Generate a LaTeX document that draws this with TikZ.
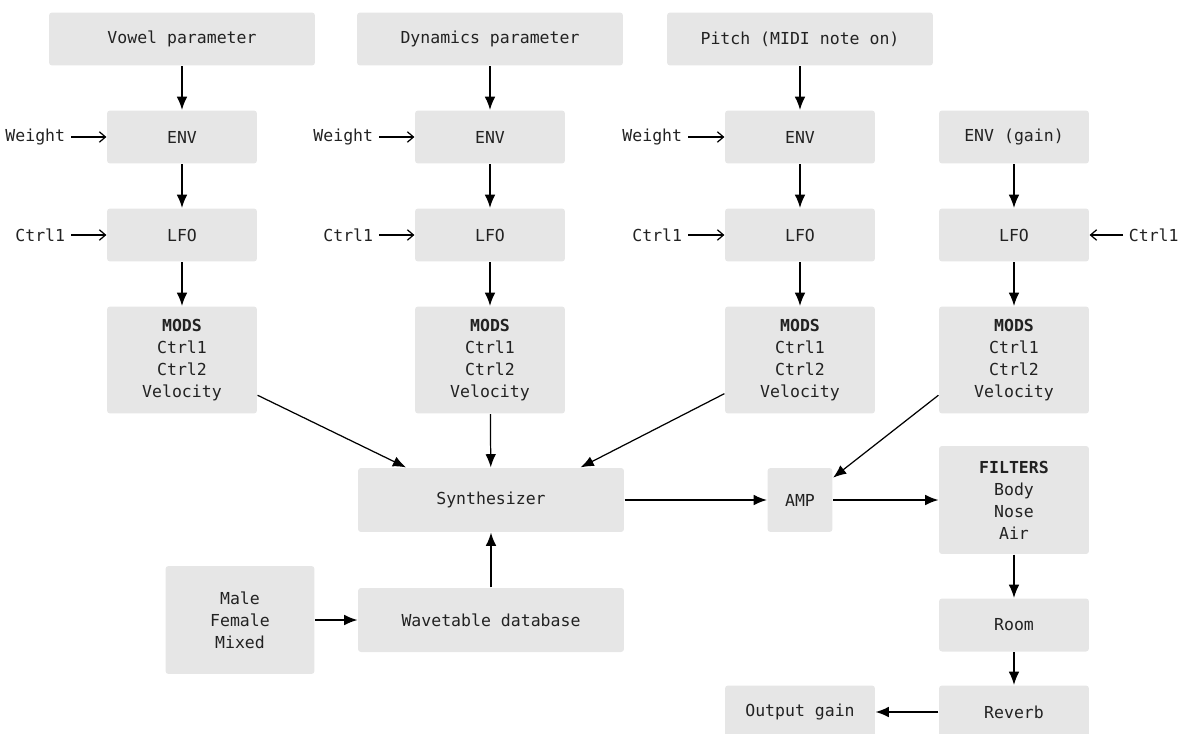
\documentclass[tikz,border=0pt]{standalone}
\usepackage{fontspec}
\setmonofont{DejaVu Sans Mono}
\usepackage{tikz}
\usetikzlibrary{arrows.meta}

\definecolor{boxgray}{HTML}{E6E6E6}
\definecolor{inkgray}{HTML}{222222}

\tikzset{
    blk/.style={fill=boxgray, rounded corners=1.7pt, align=center, text=inkgray,
        font=\ttfamily\fontsize{9.4}{12.5}\selectfont},
    wide/.style={blk, minimum width=5.32cm, minimum height=1.06cm},
    unit/.style={blk, minimum width=3cm, minimum height=1.06cm},
    tall/.style={blk, minimum width=3cm, minimum height=2.14cm},
    lbl/.style={inner sep=3pt, text=inkgray, font=\ttfamily\fontsize{9.4}{12.5}\selectfont},
    arr/.style={-{Latex[length=7.5pt, width=6pt]}, draw=black},
    barb/.style={-{Straight Barb[length=3.5pt, width=6pt]}, draw=black}
}

\begin{document}
\begin{tikzpicture}[x=0.02cm, y=-0.02cm, line width=0.7pt]
    \useasboundingbox (0,0) rectangle (1181,734);
    \clip (0,0) rectangle (1181,734);

    % parameter inputs
    \node[wide] (vowel) at (182,39) {Vowel parameter};
    \node[wide] (dyn) at (490,39) {Dynamics parameter};
    \node[wide] (pitch) at (800,39) {Pitch (MIDI note on)};

    % envelopes
    \node[unit] (env1) at (182,137) {ENV};
    \node[unit] (env2) at (490,137) {ENV};
    \node[unit] (env3) at (800,137) {ENV};
    \node[unit] (env4) at (1014,137) {ENV (gain)};
    \node[lbl, anchor=east] (w1) at (71,137) {Weight};
    \node[lbl, anchor=east] (w2) at (379,137) {Weight};
    \node[lbl, anchor=east] (w3) at (688,137) {Weight};

    % LFOs
    \node[unit] (lfo1) at (182,235) {LFO};
    \node[unit] (lfo2) at (490,235) {LFO};
    \node[unit] (lfo3) at (800,235) {LFO};
    \node[unit] (lfo4) at (1014,235) {LFO};
    \node[lbl, anchor=east] (c1) at (71,235) {Ctrl1};
    \node[lbl, anchor=east] (c2) at (379,235) {Ctrl1};
    \node[lbl, anchor=east] (c3) at (688,235) {Ctrl1};
    \node[lbl, anchor=west] (c4) at (1123,235) {Ctrl1};

    % modulators
    \node[tall] (mods1) at (182,360) {\textbf{MODS}\\Ctrl1\\Ctrl2\\Velocity};
    \node[tall] (mods2) at (490,360) {\textbf{MODS}\\Ctrl1\\Ctrl2\\Velocity};
    \node[tall] (mods3) at (800,360) {\textbf{MODS}\\Ctrl1\\Ctrl2\\Velocity};
    \node[tall] (mods4) at (1014,360) {\textbf{MODS}\\Ctrl1\\Ctrl2\\Velocity};

    % sound path
    \node[blk, minimum width=5.32cm, minimum height=1.28cm] (synth) at (491,500) {Synthesizer};
    \node[blk, minimum width=5.32cm, minimum height=1.28cm] (wave) at (491,620) {Wavetable database};
    \node[blk, minimum width=2.98cm, minimum height=2.16cm] (voice) at (240,620) {Male\\Female\\Mixed};
    \node[blk, minimum width=1.3cm, minimum height=1.28cm] (amp) at (800,500) {AMP};
    \node[blk, minimum width=3cm, minimum height=2.16cm] (filt) at (1014,500) {\textbf{FILTERS}\\Body\\Nose\\Air};
    \node[unit] (room) at (1014,625) {Room};
    \node[unit] (reverb) at (1014,712) {Reverb};
    \node[unit] (out) at (800,712) {Output gain};

    \draw[arr] (vowel) -- (env1);
    \draw[arr] (dyn) -- (env2);
    \draw[arr] (pitch) -- (env3);
    \draw[arr] (env1) -- (lfo1);
    \draw[arr] (env2) -- (lfo2);
    \draw[arr] (env3) -- (lfo3);
    \draw[arr] (env4) -- (lfo4);
    \draw[arr] (lfo1) -- (mods1);
    \draw[arr] (lfo2) -- (mods2);
    \draw[arr] (lfo3) -- (mods3);
    \draw[arr] (lfo4) -- (mods4);
    \draw[barb] (w1) -- (env1);
    \draw[barb] (w2) -- (env2);
    \draw[barb] (w3) -- (env3);
    \draw[barb] (c1) -- (lfo1);
    \draw[barb] (c2) -- (lfo2);
    \draw[barb] (c3) -- (lfo3);
    \draw[barb] (c4) -- (lfo4);

    \draw[arr] (mods1.-25.6) -- (synth.159.7);
    \draw[arr] (mods2) -- (synth);
    \draw[arr] (mods3.204) -- (synth.20);
    \draw[arr] (mods4.205) -- (amp.34);
    \draw[arr] (wave) -- (synth);
    \draw[arr] (voice) -- (wave);
    \draw[arr] (synth) -- (amp);
    \draw[arr] (amp) -- (filt);
    \draw[arr] (filt) -- (room);
    \draw[arr] (room) -- (reverb);
    \draw[arr] (reverb) -- (out);
\end{tikzpicture}
\end{document}
